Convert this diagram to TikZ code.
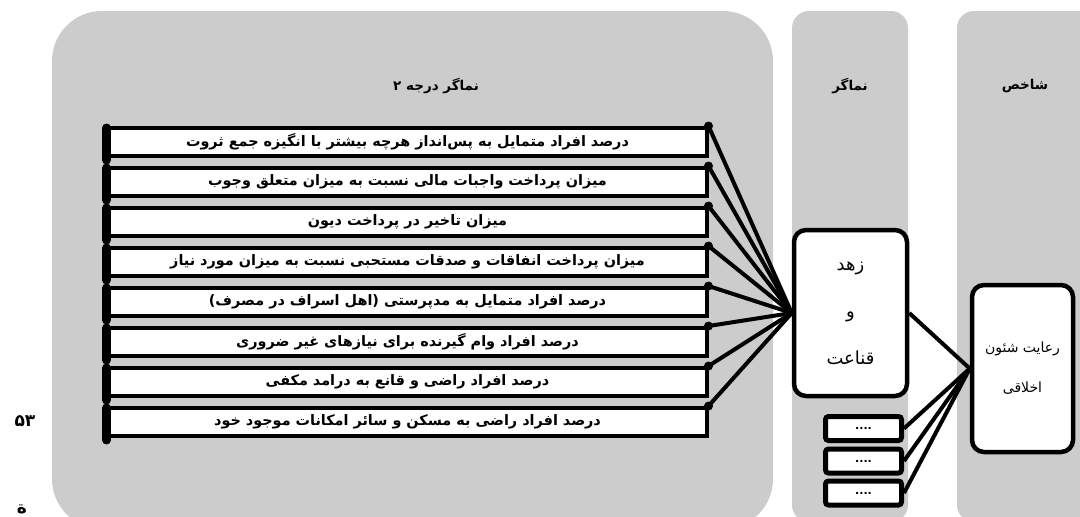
\documentclass[tikz,border=0pt]{standalone}
\usepackage{fontspec}
\TeXXeTstate=1
\newfontfamily\fa[Script=Arabic]{DejaVu Sans}
\definecolor{panel}{RGB}{204,204,204}
\begin{document}
\begin{tikzpicture}[x=1pt,y=-1pt,
  panelbg/.style={fill=panel},
  hdr/.style={font=\fa\bfseries\fontsize{13.5}{15}\selectfont},
  ind/.style={draw, line width=4pt, fill=white, minimum width=598pt, minimum height=28pt,
     inner sep=0pt, font=\fa\bfseries\fontsize{14.4}{15}\selectfont},
  bigbox/.style={draw, line width=4.5pt, fill=white, rounded corners=12pt, inner sep=0pt,
     align=center},
  smallbox/.style={draw, line width=5pt, fill=white, rounded corners=3pt, inner sep=0pt,
     minimum width=76pt, minimum height=24pt, font=\fa\bfseries\fontsize{11}{11}\selectfont},
  conn/.style={line width=4pt},
  leftbar/.style={line width=9pt, line cap=round},
]
\useasboundingbox (0,0) rectangle (1080,517);
\clip (0,0) rectangle (1080,517);
% panels
\fill[panelbg, rounded corners=50pt] (52,11) rectangle (773,529);
\fill[panelbg, rounded corners=17pt] (792,11) rectangle (908,522);
\fill[panelbg, rounded corners=17pt] (957,11) rectangle (1110,522);
% headers
\node[hdr] (h1) at (436,86) {\beginR نماگر درجه ۲\endR};
\node[hdr] (h2) at (850,86) {\beginR نماگر\endR};
\node[hdr] (h3) at (1025,86) {\beginR شاخص\endR};
% side texts
\node[font=\fa\bfseries\fontsize{17}{19}\selectfont] (p53) at (25,421) {۵۳};
\node[font=\fa\bfseries\fontsize{17}{19}\selectfont] (pbot) at (22,509) {\beginR ة\endR};
% indicator boxes
\node[ind] (b1) at (407.5,142) {\beginR درصد افراد متمایل به پس‌انداز هرچه بیشتر با انگیزه جمع ثروت\endR};
\node[ind] (b2) at (407.5,182) {\beginR میزان پرداخت واجبات مالی نسبت به میزان متعلق وجوب\endR};
\node[ind] (b3) at (407.5,222) {\beginR میزان تاخیر در پرداخت دیون\endR};
\node[ind] (b4) at (407.5,262) {\beginR میزان پرداخت انفاقات و صدقات مستحبی نسبت به میزان مورد نیاز\endR};
\node[ind] (b5) at (407.5,302) {\beginR درصد افراد متمایل به مدپرستی (اهل اسراف در مصرف)\endR};
\node[ind] (b6) at (407.5,342) {\beginR درصد افراد وام گیرنده برای نیازهای غیر ضروری\endR};
\node[ind] (b7) at (407.5,382) {\beginR درصد افراد راضی و قانع به درامد مکفی\endR};
\node[ind] (b8) at (407.5,422) {\beginR درصد افراد راضی به مسکن و سائر امکانات موجود خود\endR};
\foreach \i in {1,...,8}{
  \draw[leftbar] ([yshift=-2pt]b\i.north west) -- ([yshift=-2pt]b\i.south west);
  \fill (b\i.north east) circle[radius=4.5pt];
}
% main nodes
\node[bigbox, minimum width=113pt, minimum height=166pt,
      font=\fa\fontsize{18}{47}\selectfont] (zohd) at (850.5,313)
      {\beginR زهد\endR\\\beginR و\endR\\\beginR قناعت\endR};
\node[bigbox, minimum width=101pt, minimum height=167pt,
      font=\fa\fontsize{14}{40}\selectfont] (reayat) at (1022.5,368.5)
      {\beginR رعایت شئون\endR\\\beginR اخلاقی\endR};
\node[smallbox] (s1) at (863.5,428.5) {....};
\node[smallbox] (s2) at (863.5,461) {....};
\node[smallbox] (s3) at (863.5,493) {....};
% connectors
\foreach \i in {1,...,8}{
  \draw[conn] (b\i.north east) -- (zohd.west);
}
\draw[conn] (zohd.east) -- (reayat.west);
\foreach \i in {1,2,3}{
  \draw[conn] (s\i.east) -- (reayat.west);
}
\end{tikzpicture}
\end{document}
